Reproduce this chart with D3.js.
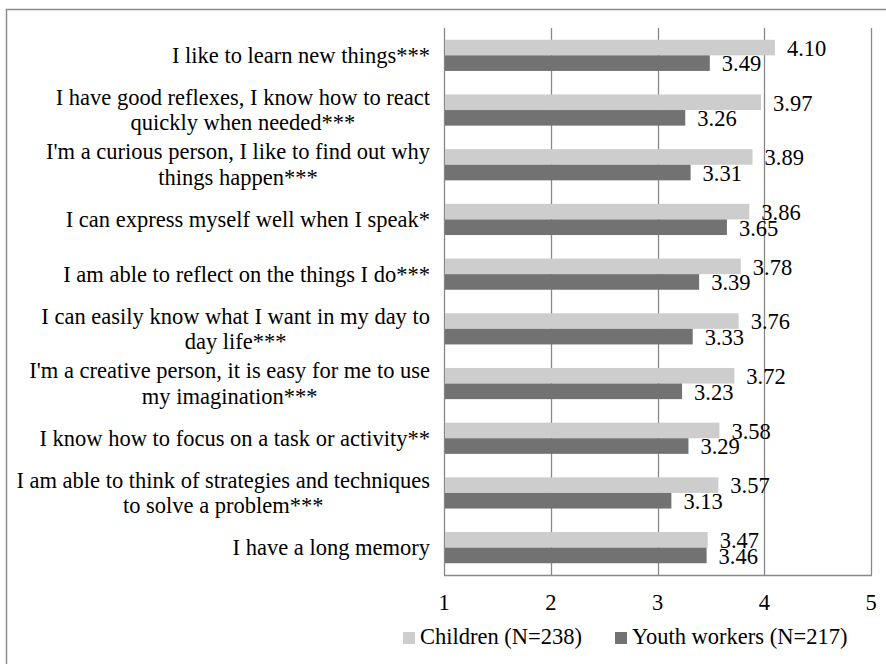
<!DOCTYPE html>
<html>
<head>
  <meta charset="utf-8">
  <script src="https://cdn.jsdelivr.net/npm/d3@7"></script>
  <style>
    body { margin: 0; background: #fff; }
  </style>
</head>
<body>
<svg id="chart"></svg>
<script>

var width = 886
var height = 664
var font = "'Liberation Serif'"
var fontSize = "22.5px"

// statements, \n marks where the label wraps
var categories = [
  "I like to learn new things***",
  "I have good reflexes, I know how to react\nquickly when needed***",
  "I'm a curious person, I like to find out why\nthings happen***",
  "I can express myself well when I speak*",
  "I am able to reflect on the things I do***",
  "I can easily know what I want in my day to\nday life***",
  "I'm a creative person, it is easy for me to use\nmy imagination***",
  "I know how to focus on a task or activity**",
  "I am able to think of strategies and techniques\nto solve a problem***",
  "I have a long memory"
]
var children = [4.10, 3.97, 3.89, 3.86, 3.78, 3.76, 3.72, 3.58, 3.57, 3.47]
var youthWorkers = [3.49, 3.26, 3.31, 3.65, 3.39, 3.33, 3.23, 3.29, 3.13, 3.46]
var seriesNames = ["Children (N=238)", "Youth workers (N=217)"]
var seriesColors = ["#cdcdcd", "#727272"]
var xTicks = [1, 2, 3, 4, 5]

var margin = {top: 28, right: 15, bottom: 89, left: 444}

var svg = d3.select("#chart")
  .attr("width", width)
  .attr("height", height)

// outer frame
svg.append("rect")
  .attr("x", 6.5).attr("y", 9.5)
  .attr("width", width + 10).attr("height", height + 10)
  .attr("fill", "none")
  .attr("stroke", "#8c8c8c")
  .attr("stroke-width", 1.5)

var x = d3.scaleLinear()
  .domain([1, 5])
  .range([margin.left, width - margin.right])

var y = d3.scaleBand()
  .domain(d3.range(categories.length))
  .range([margin.top, height - margin.bottom])
  .paddingInner(0.43)
  .paddingOuter(0.215)

var ySub = d3.scaleBand()
  .domain([0, 1])
  .range([0, y.bandwidth()])

// gridlines
svg.append("g")
  .selectAll("line")
  .data(xTicks)
  .enter().append("line")
  .attr("x1", function(d) { return Math.round(x(d)) + 0.5 })
  .attr("x2", function(d) { return Math.round(x(d)) + 0.5 })
  .attr("y1", margin.top)
  .attr("y2", height - margin.bottom)
  .attr("stroke", "#888")
  .attr("stroke-width", 1.3)

// bottom axis line
svg.append("line")
  .attr("x1", margin.left).attr("x2", x(5) + 1)
  .attr("y1", height - margin.bottom + 0.5).attr("y2", height - margin.bottom + 0.5)
  .attr("stroke", "#888")
  .attr("stroke-width", 1.3)

var rows = categories.map(function(c, i) {
  return {i: i, label: c, values: [children[i], youthWorkers[i]]}
})

var bars = svg.append("g")
  .selectAll("g")
  .data(rows)
  .enter().append("g")
  .attr("transform", function(d) { return "translate(0," + y(d.i) + ")" })

bars.selectAll("rect")
  .data(function(d) { return d.values.map(function(v, k) { return {v: v, k: k} }) })
  .enter().append("rect")
  .attr("x", x(1) + 1)
  .attr("y", function(d) { return ySub(d.k) })
  .attr("width", function(d) { return x(d.v) - x(1) - 1 })
  .attr("height", ySub.bandwidth())
  .attr("fill", function(d) { return seriesColors[d.k] })

bars.selectAll("text.val")
  .data(function(d) { return d.values.map(function(v, k) { return {v: v, k: k} }) })
  .enter().append("text")
  .attr("class", "val")
  .attr("x", function(d) { return x(d.v) + 12 })
  .attr("y", function(d) { return ySub(d.k) + ySub.bandwidth() + 0.5 })
  .style("font-family", font)
  .style("font-size", fontSize)
  .text(function(d) { return d3.format(".2f")(d.v) })

// category labels, wrapped lines centred under the widest line
var labelRight = 430
var lineHeight = 25.5
var labels = svg.append("g")
  .selectAll("text")
  .data(rows)
  .enter().append("text")
  .style("font-family", font)
  .style("font-size", fontSize)
  .attr("text-anchor", "middle")

labels.each(function(d) {
  var t = d3.select(this)
  var lines = d.label.split("\n")
  var cy = y(d.i) + y.bandwidth() / 2
  lines.forEach(function(l, j) {
    t.append("tspan")
      .attr("y", cy + (j - (lines.length - 1) / 2) * lineHeight)
      .attr("dy", "0.33em")
      .text(l)
  })
  var maxW = 0
  t.selectAll("tspan").each(function() {
    maxW = Math.max(maxW, this.getComputedTextLength())
  })
  t.selectAll("tspan").attr("x", labelRight - maxW / 2)
})

// x tick labels
svg.append("g")
  .selectAll("text")
  .data(xTicks)
  .enter().append("text")
  .attr("x", function(d) { return x(d) })
  .attr("y", 603)
  .attr("dy", "0.33em")
  .attr("text-anchor", "middle")
  .style("font-family", font)
  .style("font-size", fontSize)
  .text(function(d) { return d })

// legend
var legendX = [403, 615]
var legend = svg.append("g")
  .selectAll("g")
  .data(seriesNames)
  .enter().append("g")
  .attr("transform", function(d, i) { return "translate(" + legendX[i] + ",637)" })

legend.append("rect")
  .attr("x", 0).attr("y", -5)
  .attr("width", 12).attr("height", 12)
  .attr("fill", function(d, i) { return seriesColors[i] })

legend.append("text")
  .attr("x", 17)
  .attr("dy", "0.33em")
  .style("font-family", font)
  .style("font-size", fontSize)
  .text(function(d) { return d })

</script>
</body>
</html>
